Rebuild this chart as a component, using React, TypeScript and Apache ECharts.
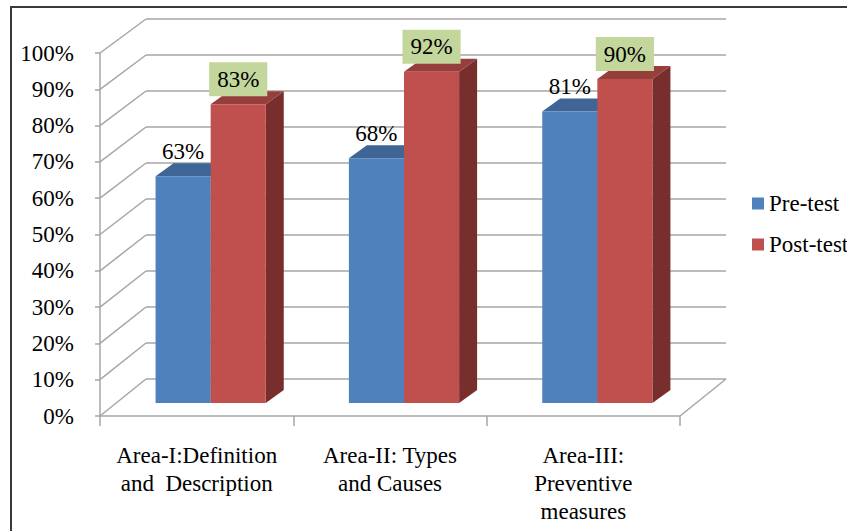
import React, { useEffect, useRef } from 'react';
import * as echarts from 'echarts';

// ---- data ----
const categories = [
  'Area-I:Definition\nand  Description',
  'Area-II: Types\nand Causes',
  'Area-III:\nPreventive\nmeasures',
];
const seriesNames = ['Pre-test', 'Post-test'];
const preTest = [63, 68, 81];
const postTest = [83, 92, 90];
const Y_MIN = 0;
const Y_MAX = 100;
const Y_STEP = 10;

// ---- layout / style ----
const FONT = 'Liberation Serif';
const FRONT = { left: 100, top: 53, width: 580, height: 363 };
const BACK = { left: 146, top: 19, width: 580, height: 360 };
const BARS = { left: 114, top: 43, width: 580, height: 360 };
const DEPTH = { dx: 18, dy: -13 };
const BAR_FRAC = 0.285;
const GRID_COLOR = '#a6a6a6';
const COLORS = [
  { front: '#4F81BD', top: '#3E6595', side: '#2F4F77', label: null as string | null },
  { front: '#C0504D', top: '#963E3B', side: '#772E2C', label: '#C3D69B' },
];

function makeBarSeries(name: string, values: number[], s: number) {
  const c = COLORS[s];
  return {
    type: 'custom',
    name,
    xAxisIndex: 2,
    yAxisIndex: 2,
    itemStyle: { color: c.front },
    data: values.map((v, i) => [i, v]),
    renderItem: (params: any, api: any) => {
      const i = api.value(0);
      const v = api.value(1);
      const top = api.coord([i, v]);
      const base = api.coord([i, 0]);
      const band = api.size([1, 0])[0];
      const w = band * BAR_FRAC;
      const x0 = top[0] - w + s * w;
      const x1 = x0 + w;
      const yT = top[1];
      const yB = base[1];
      const { dx, dy } = DEPTH;
      const labelStyle: any = {
        text: `${v}%`,
        x: (x0 + x1) / 2,
        y: yT - 25,
        align: 'center',
        verticalAlign: 'middle',
        fontFamily: FONT,
        fontSize: 23,
        fill: '#000',
      };
      if (c.label) {
        labelStyle.backgroundColor = c.label;
        labelStyle.padding = [6, 8, 5, 8];
      }
      return {
        type: 'group',
        children: [
          {
            type: 'polygon',
            shape: { points: [[x1, yT], [x1 + dx, yT + dy], [x1 + dx, yB + dy], [x1, yB]] },
            style: { fill: c.side },
          },
          {
            type: 'polygon',
            shape: { points: [[x0, yT], [x0 + dx, yT + dy], [x1 + dx, yT + dy], [x1, yT]] },
            style: { fill: c.top },
          },
          {
            type: 'rect',
            shape: { x: x0, y: yT, width: x1 - x0, height: yB - yT },
            style: { fill: c.front },
          },
          { type: 'text', style: labelStyle, z2: 10 },
        ],
      };
    },
  };
}

export default function App() {
  const ref = useRef<HTMLDivElement>(null);
  useEffect(() => {
    if (!ref.current) return;
    const chart = echarts.init(ref.current, undefined, { renderer: 'svg' });
    const hiddenCat = { type: 'category', data: categories, show: false };
    chart.setOption({
      animation: false,
      backgroundColor: '#fff',
      textStyle: { fontFamily: FONT, fontSize: 23, color: '#000' },
      grid: [
        { ...FRONT, outerBoundsMode: 'none', containLabel: false },
        { ...BACK, outerBoundsMode: 'none', containLabel: false },
        { ...BARS, outerBoundsMode: 'none', containLabel: false },
      ],
      xAxis: [
        {
          type: 'category',
          gridIndex: 0,
          data: categories,
          axisLine: { show: true, lineStyle: { color: GRID_COLOR, width: 1.5 } },
          axisTick: { show: true, length: 10, lineStyle: { color: GRID_COLOR, width: 1.5 } },
          axisLabel: {
            interval: 0,
            margin: 25,
            fontFamily: FONT,
            fontSize: 23,
            lineHeight: 28,
            color: '#000',
          },
          splitLine: { show: false },
        },
        { ...hiddenCat, gridIndex: 1 },
        { ...hiddenCat, gridIndex: 2 },
      ],
      yAxis: [
        {
          type: 'value',
          gridIndex: 0,
          min: Y_MIN,
          max: Y_MAX,
          interval: Y_STEP,
          axisLine: { show: true, lineStyle: { color: GRID_COLOR, width: 1.5 } },
          axisTick: { show: true, length: 5, lineStyle: { color: GRID_COLOR, width: 1.5 } },
          axisLabel: { margin: 26, formatter: '{value}%', fontFamily: FONT, fontSize: 23, color: '#000' },
          splitLine: { show: false },
        },
        {
          type: 'value',
          gridIndex: 1,
          min: Y_MIN,
          max: Y_MAX,
          interval: Y_STEP,
          axisLine: { show: false },
          axisTick: { show: false },
          axisLabel: { show: false },
          splitLine: { show: true, lineStyle: { color: GRID_COLOR, width: 1.5 } },
        },
        { type: 'value', gridIndex: 2, min: Y_MIN, max: Y_MAX, show: false },
      ],
      legend: {
        orient: 'vertical',
        left: 747,
        top: 187,
        itemWidth: 12,
        itemHeight: 12,
        itemGap: 18,
        icon: 'rect',
        textStyle: { fontFamily: FONT, fontSize: 23, color: '#000' },
        data: seriesNames,
      },
      series: [makeBarSeries(seriesNames[0], preTest, 0), makeBarSeries(seriesNames[1], postTest, 1)],
    });

    // wall diagonals & floor edge, positioned via the axes' own scales
    const lines: any[] = [];
    for (let v = Y_MIN; v <= Y_MAX; v += Y_STEP) {
      const yf = chart.convertToPixel({ yAxisIndex: 0 } as any, v) as unknown as number;
      const yb = chart.convertToPixel({ yAxisIndex: 1 } as any, v) as unknown as number;
      lines.push({
        type: 'line',
        shape: { x1: FRONT.left, y1: yf, x2: BACK.left, y2: yb },
        style: { stroke: GRID_COLOR, lineWidth: 1.5 },
      });
    }
    const yf0 = chart.convertToPixel({ yAxisIndex: 0 } as any, Y_MIN) as unknown as number;
    const yb0 = chart.convertToPixel({ yAxisIndex: 1 } as any, Y_MIN) as unknown as number;
    lines.push({
      type: 'line',
      shape: { x1: FRONT.left + FRONT.width, y1: yf0, x2: BACK.left + BACK.width, y2: yb0 },
      style: { stroke: GRID_COLOR, lineWidth: 1.5 },
    });
    lines.push({
      type: 'rect',
      shape: { x: 11, y: 7, width: 1000, height: 1000 },
      style: { fill: 'none', stroke: '#3a3a3a', lineWidth: 2 },
    });
    chart.setOption({ graphic: lines });

    return () => chart.dispose();
  }, []);
  return (
    <div
      ref={ref}
      style={{ position: 'fixed', left: 0, top: 0, width: 847, height: 531, background: '#fff' }}
    />
  );
}
